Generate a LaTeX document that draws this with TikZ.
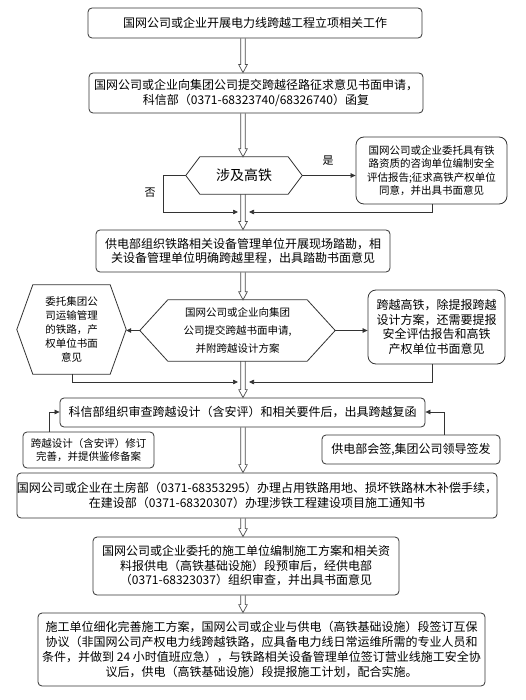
\documentclass[tikz,border=0pt]{standalone}
\usepackage{fontspec}
\setmainfont{Noto Sans CJK SC}
\usetikzlibrary{arrows.meta,calc}
\newcommand\fz[2]{\fontsize{#1}{#2}\selectfont}
\newcommand\hexdraw[2]{\draw[hexline] (#1.west) -- ([xshift=#2]#1.north west) -- ([xshift=-#2]#1.north east) -- (#1.east) -- ([xshift=-#2]#1.south east) -- ([xshift=#2]#1.south west) -- cycle;}
\begin{document}
\begin{tikzpicture}[x=1pt,y=-1pt,
  box/.style={draw=black!80, line width=0.8pt, rounded corners=4pt, inner sep=0pt, align=center, font=\fz{12}{14.5}},
  hexnode/.style={inner sep=0pt, align=center},
  hexline/.style={draw=black!80, line width=0.8pt},
  side/.style={draw=black!80, line width=0.7pt, -{Triangle[length=5pt,width=4.5pt]}},
  lbl/.style={font=\fz{11}{13}},
  harrow/.style={draw=black!70, line width=0.7pt, to path={
    let \p1=(\tikztostart), \p2=(\tikztotarget) in
    (\x1-2.3pt,\y1) -- (\x1-2.3pt,\y2+8pt) -- (\x1-4.3pt,\y2+8pt) -- (\x1,\y2) -- (\x1+4.3pt,\y2+8pt) -- (\x1+2.3pt,\y2+8pt) -- (\x1+2.3pt,\y1)}}
]
\path[use as bounding box, fill=white] (0,0) rectangle (525,700);

\node[box, minimum width=334pt, minimum height=30pt] (b1) at (255,23) {国网公司或企业开展电力线跨越工程立项相关工作};
\node[box, minimum width=334pt, minimum height=40pt] (b2) at (256,93) {国网公司或企业向集团公司提交跨越径路征求意见书面申请，\\科信部（0371-68323740/68326740）函复};
\node[hexnode, minimum width=116pt, minimum height=37pt, font=\fz{14}{16}] (d1) at (244,175.5) {涉及高铁};
\hexdraw{d1}{14pt}
\node[box, rounded corners=8pt, minimum width=151pt, minimum height=67pt, font=\fz{10.5}{13.3}] (r1) at (431.5,170.5) {国网公司或企业委托具有铁\\路资质的咨询单位编制安全\\评估报告;征求高铁产权单位\\同意，并出具书面意见};
\node[box, minimum width=294pt, minimum height=42pt] (b3) at (243,251) {供电部组织铁路相关设备管理单位开展现场踏勘，相\\关设备管理单位明确跨越里程，出具踏勘书面意见};
\node[hexnode, minimum width=195pt, minimum height=61pt, font=\fz{10.5}{17.7}] (d2) at (237.5,330.5) {国网公司或企业向集团\\公司提交跨越书面申请,\\并附跨越设计方案};
\hexdraw{d2}{28pt}
\node[hexnode, minimum width=109pt, minimum height=89pt, font=\fz{10.5}{14}] (d3) at (71.5,329.5) {委托集团公\\司运输管理\\的铁路，产\\权单位书面\\意见};
\hexdraw{d3}{16pt}
\node[box, rounded corners=8pt, minimum width=137pt, minimum height=74pt] (r2) at (436.5,327) {跨越高铁，除提报跨越\\设计方案，还需要提报\\安全评估报告和高铁\\产权单位书面意见};
\node[box, minimum width=365pt, minimum height=29pt] (b4) at (242.5,412.5) {科信部组织审查跨越设计（含安评）和相关要件后，出具跨越复函};
\node[box, minimum width=131pt, minimum height=36pt, font=\fz{10.5}{12.7}] (l4) at (88.5,450) {跨越设计（含安评）修订\\完善，并提供鉴修备案};
\node[box, minimum width=178pt, minimum height=29pt] (r4) at (411,449.5) {供电部会签,集团公司领导签发};
\node[box, minimum width=480pt, minimum height=45pt] (b5) at (257,495.5) {国网公司或企业在土房部（0371-68353295）办理占用铁路用地、损坏铁路林木补偿手续，\\在建设部（0371-68320307）办理涉铁工程建设项目施工通知书};
\node[box, minimum width=306pt, minimum height=58pt] (b6) at (246,566) {国网公司或企业委托的施工单位编制施工方案和相关资\\料报供电（高铁基础设施）段预审后，经供电部\\（0371-68323037）组织审查，并出具书面意见};
\node[box, minimum width=447pt, minimum height=73pt, font=\fz{12}{15}] (b7) at (261.5,649.5) {施工单位细化完善施工方案，国网公司或企业与供电（高铁基础设施）段签订互保\\协议（非国网公司产权电力线跨越铁路，应具备电力线日常运维所需的专业人员和\\条件，并做到 24 小时值班应急），与铁路相关设备管理单位签订营业线施工安全协\\议后，供电（高铁基础设施）段提报施工计划，配合实施。};

\node[lbl] (yes) at (328,161) {是};
\node[lbl] (no) at (150,193) {否};

\coordinate (ax) at (243,0);
\draw[harrow] (b1.south -| ax) to (b2.north -| ax);
\draw[harrow] (b2.south -| ax) to (d1.north -| ax);
\draw[harrow] (d1.south -| ax) to (b3.north -| ax);
\draw[harrow] (b3.south -| ax) to (d2.north -| ax);
\draw[harrow] (d2.south -| ax) to (b4.north -| ax);
\draw[harrow] (b4.south -| ax) to (b5.north -| ax);
\draw[harrow] (b5.south -| ax) to (b6.north -| ax);
\draw[harrow] (b6.south -| ax) to (b7.north -| ax);

\coordinate (n1) at (163,175.5);
\coordinate (n2) at (163,212);
\coordinate (n3) at (238,212);
\coordinate (y1) at (432,212);
\coordinate (y2) at (249,212);
\draw[side] (d1.east) -- (d1.east -| r1.west);
\draw[side] (d1.west) -- (n1) -- (n2) -- (n3);
\draw[side] (y1 |- r1.south) -- (y1) -- (y2);

\coordinate (m1) at (72,382);
\coordinate (m2) at (238,382);
\coordinate (m3) at (432,382);
\coordinate (m4) at (249,382);
\draw[side] (d2.west) -- (d2.west -| d3.east);
\draw[side] (d2.east) -- (d2.east -| r2.west);
\draw[side] (m1 |- d3.south) -- (m1) -- (m2);
\draw[side] (m3 |- r2.south) -- (m3) -- (m4);

\coordinate (k1) at (49,412);
\coordinate (k2) at (444,412);
\draw[side] (k1 |- l4.north) -- (k1) -- (k1 -| b4.west);
\draw[side] (k2 |- r4.north) -- (k2) -- (k2 -| b4.east);
\end{tikzpicture}
\end{document}
